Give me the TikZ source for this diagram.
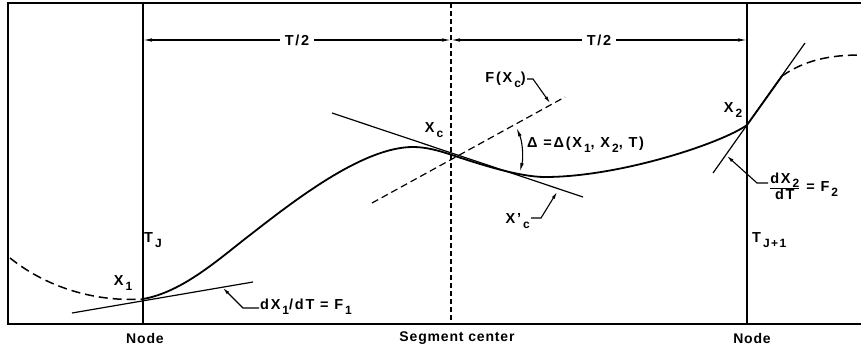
\documentclass[tikz,border=0pt]{standalone}
\usepackage{fontspec}
\setmainfont{Liberation Sans}[LetterSpace=6]
\usetikzlibrary{arrows.meta}
\newcommand{\lowsub}[1]{\raisebox{-0.6ex}{\fontsize{12}{12}\selectfont\,#1}}
\begin{document}
\begin{tikzpicture}[x=1pt,y=-1pt,
  lbl/.style={font=\fontsize{14}{16}\selectfont\bfseries, inner sep=1pt},
  lbltwo/.style={font=\fontsize{14.5}{16}\selectfont\bfseries\addfontfeature{LetterSpace=12}, inner sep=1pt},
  frame/.style={line width=1.6pt},
  curve/.style={line width=1.8pt},
  tang/.style={line width=1.2pt},
  dashcurve/.style={line width=1.5pt, dash pattern=on 9pt off 5pt},
  leader/.style={line width=1.1pt, -{Latex[length=7pt,width=3.5pt]}},
  dim/.style={line width=1.1pt, {Latex[length=9pt,width=3.5pt]}-{Latex[length=9pt,width=3.5pt]}}]
\useasboundingbox (0,0) rectangle (861,350);
% frame and verticals
\coordinate (TR) at (861,3);
\coordinate (TL) at (8,3);
\coordinate (BL) at (8,324);
\coordinate (BR) at (861,324);
\draw[frame] (TR) -- (TL) -- (BL) -- (BR);
\coordinate (N1t) at (143,3);
\coordinate (N1b) at (143,324);
\coordinate (Ct) at (451,3);
\coordinate (Cb) at (451,324);
\coordinate (N2t) at (747,3);
\coordinate (N2b) at (747,324);
\draw[line width=1.3pt] (N1t) -- (N1b);
\draw[line width=1.6pt, dash pattern=on 5pt off 3pt] (Ct) -- (Cb);
\draw[frame] (N2t) -- (N2b);
% dimensions
\coordinate (D1) at (143,40);
\coordinate (D2) at (451,40);
\coordinate (D3) at (747,40);
\draw[dim] (D1) -- node[lbltwo, fill=white, inner sep=5pt] {T/2} (D2);
\draw[dim] (D2) -- node[lbltwo, fill=white, inner sep=5pt] {T/2} (D3);
% bottom labels
\node[lbl] (nodeL) at (145,338) {Node};
\node[lbl] (segc) at (457,338) {Segment center};
\node[lbl] (nodeR) at (752,338) {Node};
% key points
\coordinate (X1) at (143,299);
\coordinate (Xc) at (452,155);
\coordinate (X2) at (747,125);
% curves
\draw[dashcurve] (10,258) .. controls (50,290) and (100,302) .. (X1);
\draw[curve, line join=round] (X1) .. controls (183,292) and (220,258) .. (250,235)
  .. controls (295,200) and (363,147) .. (413,147)
  .. controls (426,147) and (439,150.6) .. (Xc)
  .. controls (482,165) and (520,177) .. (545,177)
  .. controls (620,177) and (722,143) .. (X2)
  -- (782,76);
\draw[dashcurve] (782,76) .. controls (805,60) and (830,55) .. (861,55);
% tangents
\coordinate (T1a) at (72,313);
\coordinate (T1b) at (253,282);
\draw[tang] (T1a) -- (T1b);
\coordinate (Tca) at (332,113);
\coordinate (Tcb) at (583,197);
\draw[tang] (Tca) -- (Tcb);
\coordinate (T2a) at (713,173);
\coordinate (T2b) at (805,43);
\draw[tang] (T2a) -- (T2b);
\coordinate (Fa) at (372,203);
\coordinate (Fb) at (565,97);
\draw[line width=1.2pt, dash pattern=on 7pt off 4pt] (Fa) -- (Fb);
% delta arc
\draw[dim] ([shift={(23:70pt)}]Xc) arc[start angle=23, end angle=-14, radius=70pt];
% labels
\node[lbltwo, anchor=west] (dlt) at (526,145) {Δ =Δ(X\lowsub1, X\lowsub2, T)};
\node[lbltwo] (lx1) at (123,283) {X\lowsub1};
\node[lbltwo] (lxc) at (434,130) {X\lowsub c};
\node[lbltwo] (lx2) at (733,110) {X\lowsub2};
\node[lbltwo, anchor=west] (ltj) at (143,240) {T\lowsub J};
\node[lbltwo, anchor=west] (ltj1) at (751,240) {T\lowsub{J+1}};
\node[lbltwo, anchor=west] (lf1) at (259,307) {dX\lowsub1/dT = F\lowsub1};
\node[lbltwo, anchor=east] (lfxc) at (527,80) {F(X\lowsub c)};
\node[lbltwo, anchor=east] (lxcp) at (531,221) {X’\lowsub c};
\node[lbltwo, anchor=west] (lf2) at (768,186) {$\frac{\hbox{dX\lowsub2}}{\hbox{dT}}$ = F\lowsub2};
% leaders
\coordinate (a1) at (243,308);
\coordinate (p1) at (223,288);
\draw[leader] (lf1.west |- a1) -- (a1) -- (p1);
\coordinate (a2) at (533,79);
\coordinate (p2) at (550,103);
\draw[leader] (lfxc.east |- a2) -- (a2) -- (p2);
\coordinate (a3) at (541,218);
\coordinate (p3) at (557,192);
\draw[leader] (lxcp.east |- a3) -- (a3) -- (p3);
\coordinate (a4) at (757,183);
\coordinate (p4) at (727,156);
\draw[leader] (lf2.west |- a4) -- (a4) -- (p4);
\end{tikzpicture}
\end{document}
